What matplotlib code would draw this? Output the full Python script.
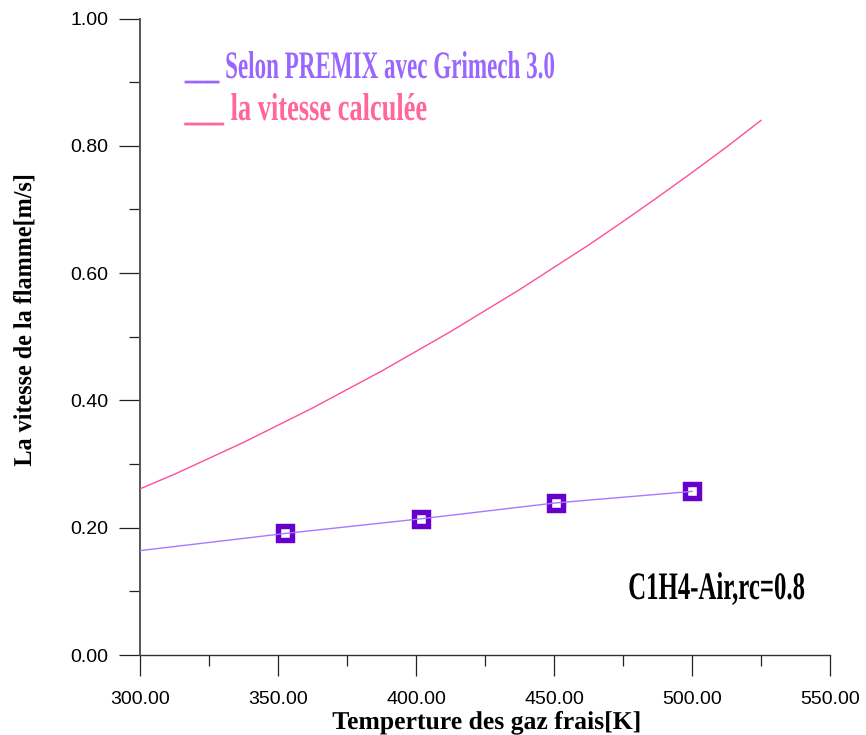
import matplotlib
matplotlib.use("Agg")
import matplotlib.pyplot as plt
from matplotlib.patheffects import AbstractPathEffect
from matplotlib.transforms import Affine2D
from matplotlib.ticker import MultipleLocator, FormatStrFormatter

# Flame speed data (m/s) versus fresh-gas temperature (K)
T_calc = [300, 312.5, 325, 337.5, 350, 362.5, 375, 387.5, 400, 412.5,
          425, 437.5, 450, 462.5, 475, 487.5, 500, 512.5, 525]
S_calc = [0.261, 0.284, 0.309, 0.334, 0.361, 0.388, 0.417, 0.446, 0.477, 0.508,
          0.541, 0.574, 0.609, 0.644, 0.681, 0.719, 0.758, 0.798, 0.840]

T_fit = [300.0, 352.7, 401.8, 450.7, 500.0]
S_fit = [0.164, 0.191, 0.214, 0.239, 0.257]

T_premix = [352.7, 401.8, 450.7, 500.0]
S_premix = [0.191, 0.214, 0.239, 0.257]

x_ticks = [300, 350, 400, 450, 500, 550]
y_ticks = [0.0, 0.2, 0.4, 0.6, 0.8, 1.0]

W, H, DPI = 866, 735, 100


class Squeeze(AbstractPathEffect):
    """Scale glyph outlines about a fixed display point (narrow, tall type)."""

    def __init__(self, origin, sx=1.0, sy=1.0):
        super().__init__()
        self.origin = origin
        self.sx = sx
        self.sy = sy

    def draw_path(self, renderer, gc, tpath, affine, rgbFace=None):
        ox, oy = self.origin
        sq = Affine2D().translate(-ox, -oy).scale(self.sx, self.sy).translate(ox, oy)
        renderer.draw_path(gc, tpath, affine + sq, rgbFace)


def serif_text(fig, px, py, s, size, color, sx=1.0, sy=1.0, **kw):
    """Bold serif label anchored at pixel (px, py) measured from the top-left."""
    dy = H - py
    return fig.text(px / W, dy / H, s, fontsize=size, color=color,
                    family="Liberation Serif", fontweight="bold",
                    path_effects=[Squeeze((px, dy), sx, sy)], **kw)


fig = plt.figure(figsize=(W / DPI, H / DPI), dpi=DPI)
ax = fig.add_axes([140 / W, 1 - 655 / H, 690 / W, 636.5 / H])

ax.plot(T_calc, S_calc, color="#ff4d9e", lw=1.0, zorder=3)
ax.plot(T_premix, S_premix, linestyle="none", marker="s", markersize=9.8,
        markeredgewidth=3.9, markeredgecolor="#6600cc",
        markerfacecolor="white", zorder=3)
ax.plot(T_fit, S_fit, color="#a57aff", lw=1.0, zorder=4)

ax.set_xlim(300, 550)
ax.set_ylim(0, 1.0)
ax.set_xticks(x_ticks)
ax.set_yticks(y_ticks)
ax.xaxis.set_minor_locator(MultipleLocator(25))
ax.yaxis.set_minor_locator(MultipleLocator(0.1))
ax.xaxis.set_major_formatter(FormatStrFormatter("%.2f"))
ax.yaxis.set_major_formatter(FormatStrFormatter("%.2f"))

for side in ("top", "right"):
    ax.spines[side].set_visible(False)
ax.spines["left"].set_color("#555555")
ax.spines["left"].set_linewidth(1.4)
ax.spines["bottom"].set_color("#333333")
ax.spines["bottom"].set_linewidth(1.0)

ax.tick_params(which="major", direction="out", length=15, width=0.9,
               color="#222222", labelsize=14, labelcolor="black")
ax.tick_params(which="minor", direction="out", length=7.8, width=0.9,
               color="#222222")
ax.tick_params(axis="x", which="major", pad=11)
ax.tick_params(axis="y", which="major", pad=8)
for lab in ax.get_xticklabels() + ax.get_yticklabels():
    lab.set_family("Liberation Sans")

# Legend entries and annotation
serif_text(fig, 370, 78, "___ Selon PREMIX avec Grimech 3.0", 28, "#9966ff",
           sx=0.593, ha="center", va="baseline")
serif_text(fig, 306, 120, "___ la vitesse calculée", 28, "#ff6699",
           sx=0.679, ha="center", va="baseline")
serif_text(fig, 716.5, 599, "C1H4-Air,rc=0.8", 28, "black",
           sx=0.638, ha="center", va="baseline")

# Axis titles
serif_text(fig, 487, 729, "Temperture des gaz frais[K]", 18.5, "black",
           ha="center", va="baseline")
serif_text(fig, 31, 320, "La vitesse de la flamme[m/s]", 18.5, "black",
           sy=0.94, ha="center", va="baseline", rotation=90,
           rotation_mode="anchor")

fig.savefig("out.png", dpi=DPI)
